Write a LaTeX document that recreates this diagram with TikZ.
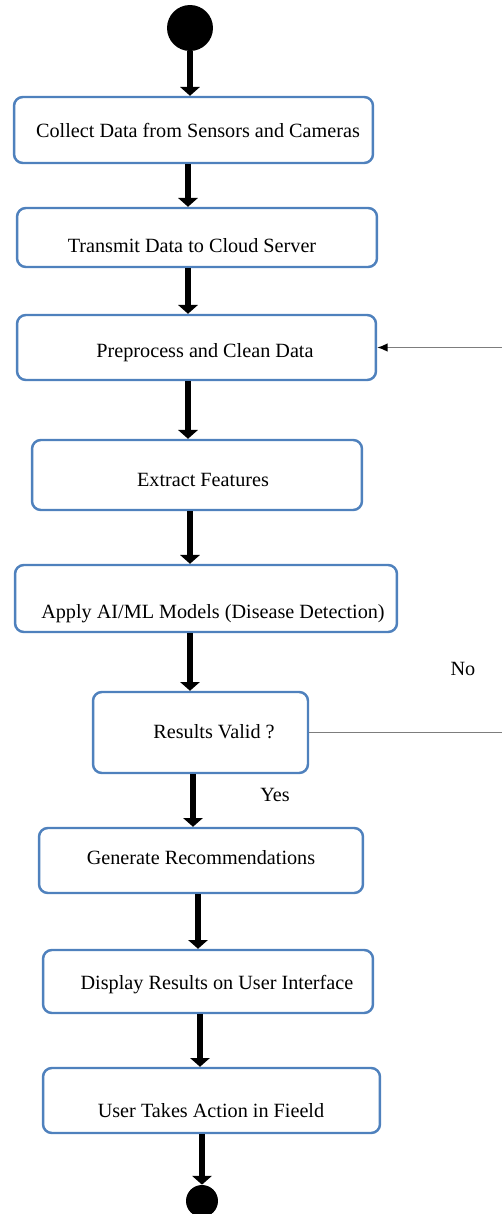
\documentclass[tikz,border=0pt]{standalone}
\usepackage{fontspec}
\setmainfont{Liberation Serif}
\usetikzlibrary{arrows.meta}
\definecolor{boxblue}{RGB}{79,129,189}
\definecolor{loopgray}{RGB}{125,125,125}
\tikzset{
  flow/.style={-{Triangle[width=11pt,length=5pt]}, line width=3.6pt, draw=black},
  back/.style={-{Latex[length=6pt,width=5pt,black]}, line width=0.9pt, draw=loopgray},
  label/.style={font=\fontsize{11.5}{13}\selectfont, text=black, inner sep=0pt},
  stepbox/.style={
    draw=boxblue,
    fill=white,
    rectangle,
    line width=1.4pt,
    rounded corners=5pt,
    inner sep=0pt
  },
  dot/.style={circle, fill=black, inner sep=0pt}
}
\begin{document}
\begin{tikzpicture}[x=0.02cm, y=-0.02cm]
\useasboundingbox (0,0) rectangle (502,1214);

% Start / end
\node[dot, minimum size=0.92cm] (start) at (190,28) {};
\node[dot, minimum size=0.64cm] (stop) at (202,1201) {};

% Steps
\node[stepbox, minimum width=7.18cm, minimum height=1.32cm] (collect) at (193.5,130) {};
\node[stepbox, minimum width=7.20cm, minimum height=1.18cm] (transmit) at (197,237.5) {};
\node[stepbox, minimum width=7.18cm, minimum height=1.30cm] (preprocess) at (196.5,347.5) {};
\node[stepbox, minimum width=6.60cm, minimum height=1.40cm] (extract) at (197,475) {};
\node[stepbox, minimum width=7.64cm, minimum height=1.34cm] (apply) at (206,598.5) {};
\node[stepbox, minimum width=4.30cm, minimum height=1.62cm] (results) at (200.5,732.5) {};
\node[stepbox, minimum width=6.48cm, minimum height=1.30cm] (generate) at (201,860.5) {};
\node[stepbox, minimum width=6.60cm, minimum height=1.26cm] (display) at (208,981.5) {};
\node[stepbox, minimum width=6.74cm, minimum height=1.30cm] (user) at (211.5,1100.5) {};

% Step texts
\node[label] (collecttxt) at (198,130) {Collect Data from Sensors and Cameras};
\node[label] (transmittxt) at (192,246) {Transmit Data to Cloud Server};
\node[label] (preprocesstxt) at (205,353) {Preprocess and Clean Data};
\node[label] (extracttxt) at (203,480) {Extract Features};
\node[label] (applytxt) at (213,614) {Apply AI/ML Models (Disease Detection)};
\node[label] (resultstxt) at (214,732) {Results Valid ?};
\node[label] (generatetxt) at (201,858) {Generate Recommendations};
\node[label] (displaytxt) at (217,985) {Display Results on User Interface};
\node[label] (usertxt) at (211,1111) {User Takes Action in Fieeld};

% Labels
\node[label] (yes) at (275,795) {Yes};
\node[label] (no) at (463,669) {No};

% Main flow
\draw[flow] (start) -- (start |- collect.north);
\draw[flow] (collect.south -| 188,0) -- (transmit.north -| 188,0);
\draw[flow] (transmit.south -| 188,0) -- (preprocess.north -| 188,0);
\draw[flow] (preprocess.south -| 188,0) -- (extract.north -| 188,0);
\draw[flow] (extract.south -| 190,0) -- (apply.north -| 190,0);
\draw[flow] (apply.south -| 190,0) -- (results.north -| 190,0);
\draw[flow] (results.south -| 193,0) -- (generate.north -| 193,0);
\draw[flow] (generate.south -| 198,0) -- (display.north -| 198,0);
\draw[flow] (display.south -| 200,0) -- (user.north -| 200,0);
\draw[flow] (user.south -| stop) -- (stop);

% Loop back (No)
\coordinate (edge) at (502.5,540);
\draw[back] (results.east) -| (edge) |- (preprocess.east);

\end{tikzpicture}
\end{document}
